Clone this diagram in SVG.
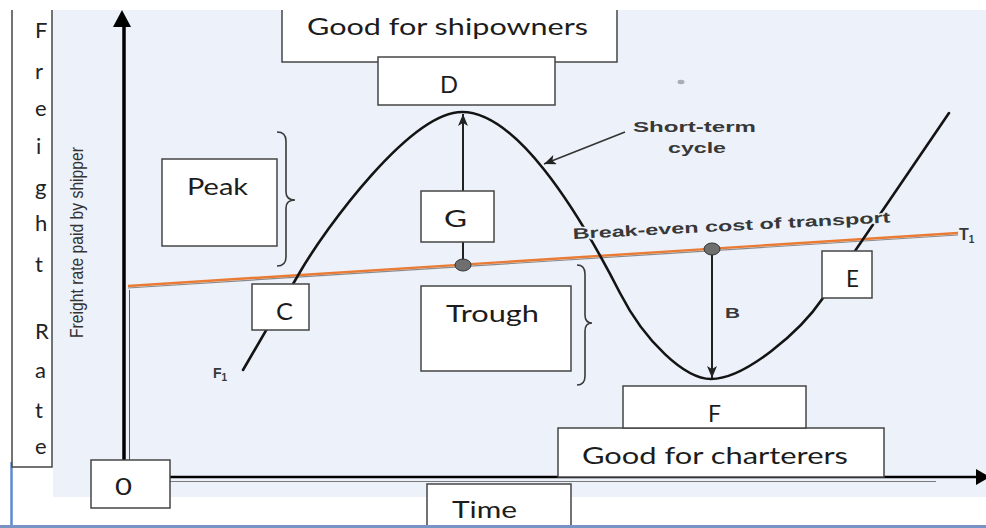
<svg xmlns="http://www.w3.org/2000/svg" width="986" height="528" viewBox="0 0 986 528">
<defs>
<style>
.box{fill:#fff;stroke:#454545;stroke-width:1.5}
.edge{fill:none;stroke:#454545;stroke-width:1.5}
.lbl{font-family:Lato,"Open Sans","Liberation Sans",sans-serif;font-size:24px;fill:#1c1c1c}
.vl{font-family:Lato,"Open Sans","Liberation Sans",sans-serif;font-size:22px;fill:#222}
.ar{font-family:"Liberation Sans",Arial,sans-serif;font-weight:bold;fill:#383838}
.halo{stroke:#edf2fa;stroke-width:3;paint-order:stroke;stroke-linejoin:round}
.curve{fill:none;stroke:#141414;stroke-width:2.6;stroke-linecap:round}
.brace{fill:none;stroke:#3a3a3a;stroke-width:1.6}
.arrow{fill:none;stroke:#222;stroke-width:2}
</style>
<marker id="ah" viewBox="0 0 12 10" refX="12" refY="5" markerWidth="12" markerHeight="10" markerUnits="userSpaceOnUse" orient="auto">
<path d="M0,0 L12,5 L0,10 L3,5 z" fill="#222"/>
</marker>
</defs>

<!-- background -->
<rect x="0" y="0" width="986" height="528" fill="#fff"/>
<rect x="53" y="10" width="933" height="487" fill="#edf2fa"/>
<line x1="11.5" y1="462" x2="11.5" y2="528" stroke="#5d8ad0" stroke-width="2.5"/>
<ellipse cx="681" cy="82" rx="3.5" ry="2.2" fill="#a9aeb6"/>

<!-- connectors -->
<g id="connectors">
  <!-- y axis -->
  <line x1="124" y1="460" x2="124" y2="24" stroke="#000" stroke-width="3.5"/>
  <line x1="129.5" y1="290" x2="129.5" y2="460" stroke="#555" stroke-width="1"/>
  <polygon points="122,10 113,27 131,27" fill="#000"/>
  <!-- x axis -->
  <line x1="170" y1="477" x2="978" y2="477" stroke="#000" stroke-width="2.5"/>
  <line x1="170" y1="481.5" x2="936" y2="481.5" stroke="#7a7a7a" stroke-width="1.2"/>
  <polygon points="990,477 976,469 976,485" fill="#000"/>
  <!-- break-even line -->
  <line x1="128" y1="288" x2="958" y2="235" stroke="#8a8a8a" stroke-width="1.2"/>
  <line x1="128" y1="286" x2="958" y2="233" stroke="#e97b35" stroke-width="2.4"/>
  <!-- cycle curve -->
  <path class="curve" d="M243,370 L300,272 C325,229 410,112 462,112 C515,112 575,205 620,293 C645,342 685,379 711,379 C745,379 800,332 823,298 L949,113"/>
  <!-- G arrow (up to peak) -->
  <line class="arrow" x1="463" y1="265" x2="463" y2="114" marker-end="url(#ah)"/>
  <!-- B arrow (down to trough) -->
  <line class="arrow" x1="712" y1="249" x2="712" y2="378" marker-end="url(#ah)"/>
  <!-- short-term arrow -->
  <line x1="625" y1="132" x2="544" y2="164" stroke="#333" stroke-width="1.6" marker-end="url(#ah)"/>
  <ellipse cx="463" cy="265" rx="8" ry="6" fill="#6f6f6f" stroke="#333" stroke-width="1"/>
  <ellipse cx="712" cy="249" rx="8" ry="6" fill="#6f6f6f" stroke="#333" stroke-width="1"/>
  <!-- braces -->
  <path class="brace" d="M277,132 Q286,132 286,141 L286,192 Q286,200 295,200 Q286,200 286,208 L286,257 Q286,266 277,266"/>
  <path class="brace" d="M577,265 Q585,265 585,274 L585,315 Q585,323 592,323 Q585,323 585,331 L585,376 Q585,385 577,385"/>
</g>

<!-- chart annotations -->
<g id="annotations">
  <text class="ar halo" x="573" y="239" font-size="15" textLength="318" lengthAdjust="spacingAndGlyphs" transform="rotate(-3 573 239)">Break-even cost of transport</text>
  <text class="ar" x="633" y="132" font-size="15" textLength="123" lengthAdjust="spacingAndGlyphs">Short-term</text>
  <text class="ar" x="668" y="153" font-size="15" textLength="58" lengthAdjust="spacingAndGlyphs">cycle</text>
  <text class="ar" x="725" y="318" font-size="14" textLength="15" lengthAdjust="spacingAndGlyphs">B</text>
  <text class="ar" x="213" y="378" font-size="14">F<tspan font-size="10" dy="3">1</tspan></text>
  <text class="ar" x="959" y="240" font-size="16">T<tspan font-size="10" dy="3">1</tspan></text>
  <text x="0" y="0" transform="translate(83,338) rotate(-90)" font-family="'Liberation Sans',Arial,sans-serif" font-size="19" fill="#333" textLength="191" lengthAdjust="spacingAndGlyphs">Freight rate paid by shipper</text>
</g>

<!-- nodes -->
<g id="freight-rate">
  <rect x="12" y="10" width="40" height="457" fill="#fff"/>
  <path class="edge" d="M12,10 V467 H52 V10"/>
  <text class="vl" x="35" y="38">F</text>
  <text class="vl" x="35" y="79">r</text>
  <text class="vl" x="35" y="116">e</text>
  <text class="vl" x="36" y="154">i</text>
  <text class="vl" x="35" y="195">g</text>
  <text class="vl" x="35" y="231">h</text>
  <text class="vl" x="35" y="272">t</text>
  <text class="vl" x="35" y="339">R</text>
  <text class="vl" x="35" y="378">a</text>
  <text class="vl" x="35" y="418">t</text>
  <text class="vl" x="35" y="454">e</text>
</g>

<g id="shipowners">
  <rect x="282" y="10" width="335" height="52" fill="#fff"/>
  <path class="edge" d="M282,10 V62 H617 V10"/>
  <text class="lbl" x="307" y="35" textLength="281" lengthAdjust="spacingAndGlyphs">Good for shipowners</text>
</g>

<g id="D">
  <rect class="box" x="378" y="57" width="177" height="48"/>
  <text class="lbl" x="440" y="93" textLength="18" lengthAdjust="spacingAndGlyphs">D</text>
</g>

<g id="peak">
  <rect class="box" x="162" y="159" width="115" height="87"/>
  <text class="lbl" x="187" y="195" textLength="61" lengthAdjust="spacingAndGlyphs">Peak</text>
</g>

<g id="G">
  <rect class="box" x="421" y="191" width="73" height="51"/>
  <text class="lbl" x="444" y="227" textLength="23" lengthAdjust="spacingAndGlyphs">G</text>
</g>

<g id="C">
  <rect class="box" x="252" y="284" width="57" height="46"/>
  <text class="lbl" x="276" y="320" textLength="17" lengthAdjust="spacingAndGlyphs">C</text>
</g>

<g id="trough">
  <rect class="box" x="421" y="286" width="150" height="85"/>
  <text class="lbl" x="446" y="322" textLength="93" lengthAdjust="spacingAndGlyphs">Trough</text>
</g>

<g id="E">
  <rect class="box" x="822" y="251" width="50" height="47"/>
  <text class="lbl" x="846" y="287" textLength="13" lengthAdjust="spacingAndGlyphs">E</text>
</g>

<g id="charterers">
  <rect class="box" x="558" y="428" width="326" height="49"/>
  <text class="lbl" x="582" y="464" textLength="266" lengthAdjust="spacingAndGlyphs">Good for charterers</text>
</g>

<g id="F">
  <rect class="box" x="623" y="386" width="183" height="42"/>
  <text class="lbl" x="708" y="422" textLength="13" lengthAdjust="spacingAndGlyphs">F</text>
</g>

<g id="origin">
  <rect class="box" x="91" y="460" width="79" height="48"/>
  <text class="lbl" x="115" y="495" textLength="17" lengthAdjust="spacingAndGlyphs">0</text>
</g>

<g id="time">
  <rect class="box" x="427" y="484" width="144" height="50"/>
  <text class="lbl" x="452" y="518" textLength="65" lengthAdjust="spacingAndGlyphs">Time</text>
</g>

<line x1="0" y1="526.5" x2="986" y2="526.5" stroke="#7894c4" stroke-width="3"/>
</svg>
